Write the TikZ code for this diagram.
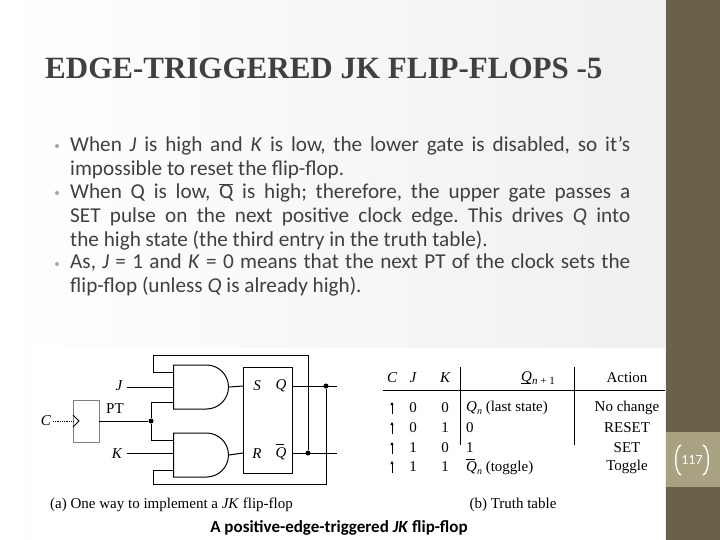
\documentclass[tikz,border=0pt]{standalone}
\usepackage{fontspec}
\setmainfont{Carlito}
\newfontfamily\tms{Liberation Serif}
\newfontfamily\ttl{Liberation Serif}
\usetikzlibrary{arrows.meta,shapes.gates.logic.US}
\definecolor{side}{HTML}{6B6148}
\definecolor{band}{HTML}{A8A283}
\definecolor{txt}{HTML}{404040}
\frenchspacing
\begin{document}
\begin{tikzpicture}[x=1pt,y=-1pt,
  wire/.style={line width=1pt,black},
  dot/.style={circle,fill=black,inner sep=0pt,minimum size=5pt},
  ser/.style={font=\tms\fontsize{15}{15}\selectfont,inner sep=0pt},
  iser/.style={font=\tms\itshape\fontsize{15}{15}\selectfont,inner sep=0pt},
  body/.style={anchor=north west,text width=560pt,align=justify,inner sep=0pt,text=txt,font=\fontsize{21.2}{24}\selectfont},
  andg/.style={and gate US,draw,line width=1pt,minimum width=55pt,minimum height=40pt,anchor=west}]
\useasboundingbox (0,0) rectangle (720,540);
\shade[left color=white,right color=gray!12] (0,0) rectangle (666,540);
\fill[white] (30,348) rectangle (665,540);
\fill[side] (666,0) rectangle (720,540);
\fill[band] (666,432) rectangle (720,487);
\node[text=white,font=\fontsize{14}{14}\selectfont] (pg) at (692,460) {117};
\draw[white,line width=1.4pt] (681,445) .. controls (674,447) and (674,473) .. (681,475);
\draw[white,line width=1.4pt] (703,445) .. controls (710,447) and (710,473) .. (703,475);
\node[anchor=west,inner sep=0pt,text=txt,font=\ttl\bfseries\fontsize{31}{31}\selectfont] (title) at (45,68) {EDGE-TRIGGERED JK FLIP-FLOPS -5};
\node[body] (b1) at (70,136) {When \textit{J} is high and \textit{K} is low, the lower gate is disabled, so it's\linebreak impossible to reset the flip-flop.};
\node[body] (b2) at (70,183) {When Q is low, $\overline{\mbox{Q}}$ is high; therefore, the upper gate passes a\linebreak SET pulse on the next positive clock edge. This drives \textit{Q} into\linebreak the high state (the third entry in the truth table).};
\node[body] (b3) at (70,254) {As, \textit{J} = 1 and \textit{K} = 0 means that the next PT of the clock sets the\linebreak flip-flop (unless \textit{Q} is already high).};
\foreach \y in {146,193,264} \fill[gray!70] (57,\y) circle (2pt);
% circuit
\node[andg] (g1) at (173,387) {};
\node[andg] (g2) at (173,455) {};
\draw[wire] (243,367) rectangle (292,473);
\node[iser] (s) at (257,386) {S};
\node[iser] (q) at (281,386) {Q};
\node[iser] (r) at (257,454) {R};
\node[iser] (qb) at (281,452) {\rlap{\raisebox{12pt}{\rule{8pt}{0.6pt}}}Q};
\draw[wire] (g1.east) -- (243,386);
\draw[wire] (g2.east) -- (243,453);
\node[dot] (jq) at (326,386) {};
\node[dot] (jqb) at (308,453) {};
\draw[wire] (292,386) -- (337,386);
\draw[wire] (292,453) -- (337,453);
\draw[wire] (jqb) -- (308,355) -- (153,355) -- (153,372) -- (173,372);
\draw[wire] (jq) -- (326,484) -- (153,484) -- (153,470) -- (173,470);
\node[iser] (j) at (119,386) {J};
\node[iser] (k) at (117,454) {K};
\draw[wire] (127,387) -- (173,387);
\draw[wire] (127,453) -- (173,453);
\draw[line width=0.8pt,gray] (73,400) rectangle (99,442);
\draw[line width=0.8pt] (73,415) -- (79,421) -- (73,427);
\node[iser] (c) at (46,421) {C};
\draw[line width=0.8pt,densely dotted] (53,421) -- (73,421);
\node[ser] (pt) at (115,409) {PT};
\node[dot] (jp) at (151,421) {};
\draw[wire] (99,421) -- (jp);
\draw[wire] (jp) -- (151,402) -- (173,402);
\draw[wire] (jp) -- (151,440) -- (173,440);
\node[ser,anchor=west] (capa) at (50,505) {(a) One way to implement a \textit{JK} flip-flop};
\node[ser] (capb) at (513,505) {(b) Truth table};
\node[inner sep=0pt,font=\bfseries\fontsize{17}{17}\selectfont] (capm) at (339,528) {A positive-edge-triggered \textit{JK} flip-flop};
% table
\draw[line width=0.8pt] (383,390) -- (665,390);
\draw[line width=0.8pt] (460,367) -- (460,445);
\draw[line width=0.8pt] (574,367) -- (574,445);
\foreach \t/\x in {C/392,J/413,K/445} \node[iser] at (\x,378) {\t};
\node[ser] (hq) at (538,378) {\rlap{\raisebox{-2pt}{\rule{10pt}{0.6pt}}}\textit{Q}\raisebox{-3pt}{\fontsize{11}{11}\selectfont\textit{n} + 1}};
\node[ser] (ha) at (627,378) {Action};
\foreach \y/\jj/\kk/\qq/\aa in {408/0/0/{\textit{Q}\raisebox{-3pt}{\fontsize{10}{10}\selectfont\textit{n}} (last state)}/No change,428/0/1/0/RESET,448/1/0/1/SET,467/1/1/{\rlap{\raisebox{12pt}{\rule{9pt}{0.6pt}}}\textit{Q}\raisebox{-3pt}{\fontsize{10}{10}\selectfont\textit{n}} (toggle)}/Toggle}{
  \draw[-{Triangle[length=3pt,width=3pt]},line width=0.8pt] (392,\y+6) -- (392,\y-6);
  \node[ser] at (413,\y) {\jj};
  \node[ser] at (445,\y) {\kk};
  \node[ser,anchor=west] at (466,\y) {\qq};
  \node[ser] at (627,\y) {\aa};
}
\end{tikzpicture}
\end{document}
